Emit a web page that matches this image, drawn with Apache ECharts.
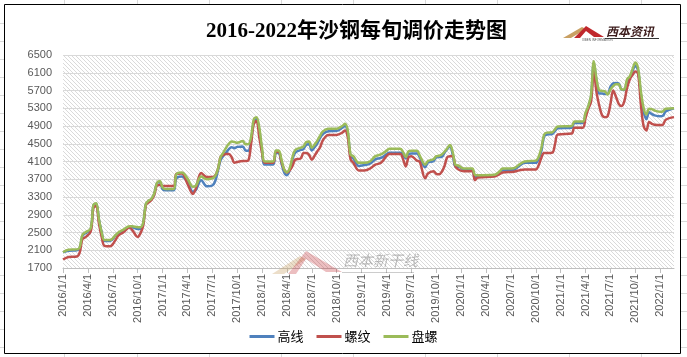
<!DOCTYPE html>
<html><head><meta charset="utf-8">
<script src="https://cdn.jsdelivr.net/npm/echarts@6/dist/echarts.min.js"></script>
<style>html,body{margin:0;padding:0;background:#fff;}#c{width:687px;height:357px;}</style>
</head><body><div id="c"></div>
<script>
// Quarter tick labels on the x axis
const quarterLabels = ['2016/1/1','2016/4/1','2016/7/1','2016/10/1','2017/1/1','2017/4/1','2017/7/1','2017/10/1',
  '2018/1/1','2018/4/1','2018/7/1','2018/10/1','2019/1/1','2019/4/1','2019/7/1','2019/10/1',
  '2020/1/1','2020/4/1','2020/7/1','2020/10/1','2021/1/1','2021/4/1','2021/7/1','2021/10/1','2022/1/1'];
const yTicks = [1700,2100,2500,2900,3300,3700,4100,4500,4900,5300,5700,6100,6500];
const seriesNames = ['高线','螺纹','盘螺'];
const dates = ['2016/1/1','2016/1/21','2016/2/21','2016/3/1','2016/3/11','2016/3/21','2016/4/11','2016/4/21','2016/5/1','2016/5/11',
 '2016/5/21','2016/6/1','2016/6/21','2016/7/11','2016/7/21','2016/8/11','2016/9/1','2016/9/11','2016/10/1','2016/10/11',
 '2016/10/21','2016/11/1','2016/11/11','2016/11/21','2016/12/1','2016/12/11','2016/12/21','2017/1/1','2017/1/11','2017/2/11',
 '2017/2/21','2017/3/11','2017/4/1','2017/4/21','2017/5/1','2017/5/21','2017/6/11','2017/7/1','2017/7/11','2017/7/21',
 '2017/8/1','2017/8/11','2017/8/21','2017/9/1','2017/9/11','2017/9/21','2017/10/1','2017/10/21','2017/11/1','2017/11/11',
 '2017/11/21','2017/12/1','2017/12/11','2017/12/21','2018/1/1','2018/1/11','2018/2/11','2018/2/21','2018/3/1','2018/3/11',
 '2018/3/21','2018/4/1','2018/4/11','2018/4/21','2018/5/1','2018/5/21','2018/6/1','2018/6/11','2018/6/21','2018/7/1',
 '2018/7/11','2018/7/21','2018/8/1','2018/8/11','2018/9/1','2018/10/1','2018/10/21','2018/11/1','2018/11/11','2018/11/21',
 '2018/12/1','2018/12/21','2019/1/11','2019/2/1','2019/2/21','2019/3/11','2019/4/1','2019/4/11','2019/5/21','2019/6/1',
 '2019/6/11','2019/6/21','2019/7/1','2019/7/21','2019/8/1','2019/8/21','2019/9/1','2019/9/21','2019/10/1','2019/10/11',
 '2019/10/21','2019/11/1','2019/11/11','2019/11/21','2019/12/1','2019/12/11','2019/12/21','2020/1/11','2020/2/11','2020/2/21',
 '2020/3/1','2020/5/1','2020/5/21','2020/6/1','2020/7/11','2020/8/1','2020/8/21','2020/10/1','2020/10/11','2020/10/21',
 '2020/11/1','2020/11/11','2020/12/1','2020/12/11','2020/12/21','2021/2/11','2021/2/21','2021/3/21','2021/4/1','2021/4/11',
 '2021/4/21','2021/5/1','2021/5/11','2021/5/21','2021/6/1','2021/6/11','2021/6/21','2021/7/1','2021/7/11','2021/7/21',
 '2021/8/1','2021/8/11','2021/8/21','2021/9/1','2021/9/11','2021/9/21','2021/10/1','2021/10/11','2021/10/21','2021/11/1',
 '2021/11/11','2021/11/21','2021/12/1','2021/12/11','2022/1/1','2022/1/11','2022/1/21','2022/2/21'];
// 高线 (blue)
const gaoxian = [2050,2090,2100,2130,2420,2480,2570,3110,3150,2790,
 2500,2310,2310,2430,2480,2550,2620,2620,2580,2580,
 2700,3140,3210,3250,3370,3610,3640,3480,3450,3450,
 3720,3760,3640,3420,3450,3680,3540,3560,3650,3880,
 4130,4230,4300,4380,4420,4400,4430,4440,4350,4340,
 4560,5000,5050,4800,4330,4030,4030,4290,4290,4070,
 3850,3790,3900,4150,4300,4360,4380,4480,4490,4350,
 4420,4510,4630,4720,4780,4790,4860,4900,4750,4220,
 4170,4000,4020,4050,4150,4180,4260,4300,4300,4250,
 4170,4270,4280,4280,4200,3970,4080,4110,4190,4200,
 4200,4300,4380,4450,4240,3980,3980,3920,3910,3720,
 3770,3780,3850,3900,3910,4000,4070,4070,4160,4330,
 4660,4710,4720,4790,4850,4860,4970,4970,5160,5320,
 5560,6310,5900,5630,5630,5620,5620,5780,5860,5870,
 5860,5720,5710,5900,5980,6140,6260,6150,5620,5230,
 5050,5210,5170,5140,5120,5130,5230,5300];
// 螺纹 (red)
const luowen = [1890,1950,1960,2040,2350,2390,2520,3050,3100,2700,
 2400,2200,2190,2330,2430,2510,2610,2560,2400,2480,
 2650,3120,3180,3230,3350,3560,3570,3550,3550,3550,
 3820,3830,3600,3370,3480,3840,3750,3750,3780,3920,
 4200,4250,4270,4270,4200,4070,4090,4110,4110,4120,
 4480,4950,5010,4640,4300,4070,4070,4320,4320,4100,
 3920,3850,3900,4000,4140,4170,4290,4290,4250,4140,
 4230,4330,4420,4580,4700,4700,4750,4800,4650,4150,
 4070,3900,3900,3940,4030,4070,4220,4270,4270,4150,
 3990,4200,4220,4120,4100,3720,3830,3880,3820,3810,
 3870,4000,4200,4220,4220,3980,3920,3880,3880,3680,
 3740,3760,3820,3850,3870,3900,3920,3920,4010,4180,
 4290,4290,4300,4500,4710,4730,4860,4860,5080,5290,
 5450,6140,5650,5350,5140,5100,5120,5390,5700,5560,
 5400,5350,5450,5750,5950,6050,6130,6080,5400,4900,
 4800,4990,4950,4930,4920,4930,5040,5100];
// 盘螺 (green)
const panluo = [2055,2110,2120,2160,2440,2500,2590,3120,3160,2800,
 2500,2330,2330,2440,2500,2570,2640,2640,2620,2620,
 2720,3150,3220,3260,3380,3620,3660,3520,3480,3480,
 3810,3850,3720,3530,3550,3760,3700,3720,3770,3920,
 4200,4300,4410,4500,4550,4540,4520,4560,4490,4490,
 4640,5050,5100,4860,4400,4100,4100,4350,4350,4150,
 3920,3860,3950,4200,4360,4410,4440,4540,4550,4410,
 4480,4570,4680,4780,4840,4840,4900,4950,4800,4260,
 4220,4070,4070,4100,4220,4260,4340,4390,4390,4310,
 4200,4330,4340,4340,4240,4030,4110,4150,4220,4230,
 4260,4320,4400,4470,4300,4020,4010,3940,3940,3800,
 3790,3800,3880,3940,3950,4030,4100,4120,4200,4400,
 4700,4750,4760,4830,4890,4900,5000,5000,5200,5350,
 5600,6360,5950,5700,5690,5680,5610,5720,5800,5840,
 5840,5725,5720,5950,6020,6180,6330,6200,5690,5310,
 5160,5290,5280,5250,5220,5230,5290,5300];

// full ten-day calendar for the category axis
const categories = [];
(function(){
  for (let y = 2016; y <= 2022; y++) for (let m = 1; m <= 12; m++) for (const d of [1,11,21]) {
    if (categories.length && categories[categories.length-1] === '2022/2/21') return;
    categories.push(y + '/' + m + '/' + d);
  }
})();
const quarterSet = new Set(quarterLabels);

// hatch pattern for plot background
const pc = document.createElement('canvas'); pc.width = 4; pc.height = 4;
const pctx = pc.getContext('2d');
pctx.fillStyle = '#ffffff'; pctx.fillRect(0,0,4,4);
pctx.strokeStyle = '#dadada'; pctx.lineWidth = 1;
pctx.beginPath(); pctx.moveTo(-1,-1); pctx.lineTo(5,5); pctx.moveTo(-1,3); pctx.lineTo(1,5); pctx.moveTo(3,-1); pctx.lineTo(5,1); pctx.stroke();

const colors = ['#4F81BD','#C0504D','#9BBB59'];
const values = [gaoxian, luowen, panluo];

// spreadsheet cell gridlines around the chart box
const sheetLines = [];
[64,137,209,281,353,425,497,569,641].forEach(x => {
  sheetLines.push({type:'line', z:0, silent:true, shape:{x1:x+0.5,y1:0,x2:x+0.5,y2:4}, style:{stroke:'#d9d9d9',lineWidth:1}});
  sheetLines.push({type:'line', z:0, silent:true, shape:{x1:x+0.5,y1:354,x2:x+0.5,y2:357}, style:{stroke:'#d9d9d9',lineWidth:1}});
});
for (let y = 23; y < 357; y += 18) {
  sheetLines.push({type:'line', z:0, silent:true, shape:{x1:0,y1:y+0.5,x2:4,y2:y+0.5}, style:{stroke:'#d9d9d9',lineWidth:1}});
  sheetLines.push({type:'line', z:0, silent:true, shape:{x1:681,y1:y+0.5,x2:687,y2:y+0.5}, style:{stroke:'#d9d9d9',lineWidth:1}});
}

const chart = echarts.init(document.getElementById('c'), null, {renderer:'canvas'});
chart.setOption({
  animation: false,
  backgroundColor: '#ffffff',
  color: colors,
  grid: {left: 63, right: 13, top: 55, bottom: 89, show: true, borderWidth: 0,
         backgroundColor: {image: pc, repeat: 'repeat'}, outerBoundsMode: 'none'},
  legend: {
    top: 325, left: 'center', itemWidth: 25, itemHeight: 3, itemGap: 13, icon: 'rect',
    data: seriesNames,
    textStyle: {fontSize: 13, color: '#000', fontFamily: 'Noto Sans CJK SC', padding: [0,0,0,-2]}
  },
  xAxis: {
    type: 'category', data: categories, boundaryGap: false,
    axisLine: {lineStyle: {color: '#bfbfbf', width: 1}},
    axisTick: {show: true, length: 5, interval: (i, v) => quarterSet.has(v), lineStyle: {color: '#bfbfbf'}},
    axisLabel: {interval: (i, v) => quarterSet.has(v), rotate: 90, fontSize: 11, color: '#595959',
                fontFamily: 'Liberation Sans', margin: 6},
    splitLine: {show: false}
  },
  yAxis: {
    type: 'value', min: yTicks[0], max: yTicks[yTicks.length-1], interval: 400,
    axisLine: {show: false}, axisTick: {show: false},
    axisLabel: {fontSize: 11, color: '#595959', fontFamily: 'Liberation Sans', margin: 11,
                formatter: v => String(v)},
    splitLine: {lineStyle: {color: '#d9d9d9', width: 1}}
  },
  series: seriesNames.map((n, k) => ({
    name: n, type: 'line', smooth: 0.35, showSymbol: false, z: 3 + k,
    lineStyle: {width: 2.5, color: colors[k]}, itemStyle: {color: colors[k]},
    data: dates.map((d, i) => [d, values[k][i]])
  })),
  graphic: sheetLines.concat([
    {type:'rect', z:1, silent:true, shape:{x:4.5,y:4.5,width:676,height:349}, style:{fill:'none', stroke:'#000', lineWidth:1}},
    {type:'text', z:5, silent:true, style:{text:'2016-2022年沙钢每旬调价走势图', x:206, y:21,
      font:'bold 21px "Liberation Serif", "Noto Sans CJK SC"', fill:'#000'}},
    // title logo
    {type:'polygon', z:5, silent:true, shape:{points:[[563,38],[582,27],[586,29],[571,38]]}, style:{fill:'#c9a063'}},
    {type:'polygon', z:5, silent:true, shape:{points:[[574,38],[586,26],[604,37],[594,37],[586,31],[580,38]]}, style:{fill:'#c0282d'}},
    {type:'text', z:5, silent:true, style:{text:'西本资讯', x:606, y:25, font:'italic bold 12px "Noto Sans CJK SC"', fill:'#3a1a1a'}},
    {type:'line', z:5, silent:true, shape:{x1:605,y1:38.5,x2:659,y2:38.5}, style:{stroke:'#333',lineWidth:1}},
    {type:'text', z:5, silent:true, style:{text:'XIBEN INFORMATION', x:582, y:39, font:'3px "Liberation Sans"', fill:'#555'}},
    // faint watermark
    {type:'polygon', z:2, silent:true, shape:{points:[[272,274],[300,256],[306,259],[284,274]]}, style:{fill:'rgba(201,160,99,0.35)'}},
    {type:'polygon', z:2, silent:true, shape:{points:[[288,274],[306,251],[342,272],[326,272],[306,259],[296,274]]}, style:{fill:'rgba(192,40,45,0.3)'}},
    {type:'text', z:2, silent:true, style:{text:'西本新干线', x:343, y:253, font:'italic 15px "Noto Sans CJK SC"', fill:'rgba(110,110,110,0.45)'}},
    {type:'line', z:2, silent:true, shape:{x1:342,y1:272.5,x2:414,y2:272.5}, style:{stroke:'rgba(110,110,110,0.35)',lineWidth:1}}
  ])
});
</script></body></html>
